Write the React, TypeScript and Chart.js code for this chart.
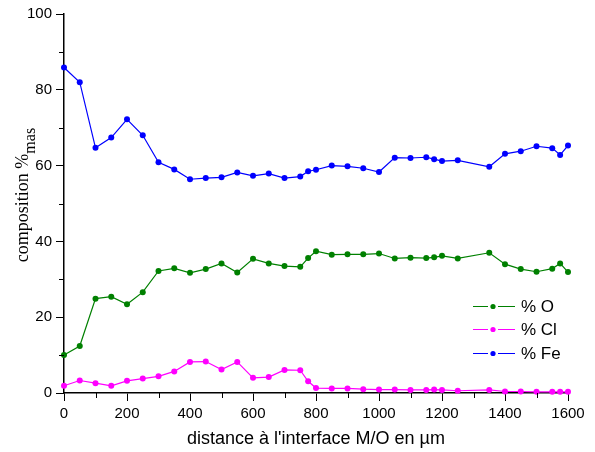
import React, { useEffect, useRef } from "react";
import { Chart, registerables } from "chart.js";

Chart.register(...registerables);

const distances = [0, 50, 100, 150, 200, 250, 300, 350, 400, 450, 500, 550, 600, 650, 700, 750, 775, 800, 850, 900, 950, 1000, 1050, 1100, 1150, 1175, 1200, 1250, 1350, 1400, 1450, 1500, 1550, 1575, 1600];
const oxygen = [10.0, 12.4, 24.9, 25.4, 23.4, 26.6, 32.2, 32.9, 31.7, 32.7, 34.2, 31.8, 35.4, 34.2, 33.5, 33.3, 35.6, 37.4, 36.5, 36.6, 36.6, 36.8, 35.5, 35.7, 35.6, 35.8, 36.2, 35.5, 37.0, 34.0, 32.7, 32.0, 32.8, 34.2, 31.9];
const chlorine = [1.9, 3.3, 2.6, 1.9, 3.2, 3.8, 4.4, 5.7, 8.2, 8.3, 6.2, 8.2, 4.0, 4.2, 6.1, 6.0, 3.1, 1.3, 1.2, 1.2, 1.0, 0.9, 0.9, 0.8, 0.8, 0.9, 0.8, 0.6, 0.8, 0.4, 0.4, 0.3, 0.3, 0.3, 0.3];
const iron = [85.9, 82.0, 64.7, 67.4, 72.2, 68.0, 60.9, 59.0, 56.4, 56.7, 56.9, 58.2, 57.3, 57.9, 56.7, 57.1, 58.5, 58.9, 60.0, 59.8, 59.3, 58.3, 62.1, 62.0, 62.2, 61.7, 61.2, 61.4, 59.7, 63.1, 63.8, 65.1, 64.6, 62.8, 65.3];

const seriesLabels = ["% O", "% Cl", "% Fe"];
const seriesColors = ["#008000", "#ff00ff", "#0000ff"];
const xTitle = "distance à l'interface M/O en µm";
const yTitleMain = "composition %";
const yTitleSub = "mas";

const SANS = "Arial, 'Liberation Sans', sans-serif";
const SERIF = "'Times New Roman', 'Liberation Serif', serif";

const decorPlugin = {
  id: "decor",
  afterDraw(chart: any) {
    const ctx = chart.ctx;
    const xs = chart.scales.x;
    const ys = chart.scales.y;
    const area = chart.chartArea;
    ctx.save();
    // minor ticks
    ctx.strokeStyle = "#000";
    ctx.lineWidth = 1;
    ctx.beginPath();
    for (let v = 100; v <= 1600; v += 200) {
      const px = Math.round(xs.getPixelForValue(v)) + 0.5;
      ctx.moveTo(px, area.bottom);
      ctx.lineTo(px, area.bottom + 5);
    }
    for (let v = 10; v <= 100; v += 20) {
      const py = Math.round(ys.getPixelForValue(v)) + 0.5;
      ctx.moveTo(area.left, py);
      ctx.lineTo(area.left - 5, py);
    }
    ctx.stroke();

    // x title
    ctx.fillStyle = "#000";
    ctx.font = `18px ${SANS}`;
    ctx.textAlign = "center";
    ctx.textBaseline = "alphabetic";
    ctx.fillText(xTitle, (area.left + area.right) / 2, 444);

    // y title (rotated with subscript)
    ctx.save();
    ctx.translate(28, 195);
    ctx.rotate(-Math.PI / 2);
    ctx.font = `18px ${SERIF}`;
    const wMain = ctx.measureText(yTitleMain).width;
    ctx.font = `16px ${SERIF}`;
    const wSub = ctx.measureText(yTitleSub).width;
    const total = wMain + wSub;
    ctx.textAlign = "left";
    ctx.font = `18px ${SERIF}`;
    ctx.fillText(yTitleMain, -total / 2, 0);
    ctx.font = `16px ${SERIF}`;
    ctx.fillText(yTitleSub, -total / 2 + wMain, 7);
    ctx.restore();

    // legend
    const rows = [306, 329, 353];
    ctx.font = `17px ${SANS}`;
    ctx.textAlign = "left";
    ctx.textBaseline = "middle";
    for (let i = 0; i < 3; i++) {
      const y = rows[i] + 0.5;
      ctx.strokeStyle = seriesColors[i];
      ctx.lineWidth = 1;
      ctx.beginPath();
      ctx.moveTo(473, y);
      ctx.lineTo(488, y);
      ctx.moveTo(498, y);
      ctx.lineTo(515, y);
      ctx.stroke();
      ctx.fillStyle = seriesColors[i];
      ctx.beginPath();
      ctx.arc(493, y, 2.6, 0, Math.PI * 2);
      ctx.fill();
      ctx.fillStyle = "#000";
      ctx.fillText(seriesLabels[i], 521, rows[i] + 1);
    }
    ctx.restore();
  },
};

export default function App() {
  const canvasRef = useRef<HTMLCanvasElement | null>(null);

  useEffect(() => {
    const canvas = canvasRef.current;
    if (!canvas) return;
    const series = [oxygen, chlorine, iron];
    const chart = new Chart(canvas, {
      type: "line",
      data: {
        datasets: series.map((vals, i) => ({
          label: seriesLabels[i],
          data: distances.map((d, j) => ({ x: d, y: vals[j] })),
          borderColor: seriesColors[i],
          backgroundColor: seriesColors[i],
          borderWidth: 1.2,
          pointRadius: 3,
          pointBorderWidth: 0,
          pointBackgroundColor: seriesColors[i],
          tension: 0,
          clip: false as any,
        })),
      },
      options: {
        animation: false,
        responsive: false,
        devicePixelRatio: 1,
        layout: { padding: { left: 0, right: 27, top: 14, bottom: 0 } },
        plugins: {
          legend: { display: false },
          tooltip: { enabled: false },
          title: { display: false },
        },
        scales: {
          x: {
            type: "linear",
            min: 0,
            max: 1600,
            afterFit: (s: any) => {
              s.height = 59;
            },
            ticks: {
              stepSize: 200,
              color: "#000",
              font: { family: SANS, size: 15 },
              padding: 4,
              maxRotation: 0,
              autoSkip: false,
              callback: (v: any) => String(v),
            },
            grid: {
              display: true,
              drawOnChartArea: false,
              drawTicks: true,
              tickLength: 8,
              tickColor: "#000",
              tickWidth: 1,
            },
            border: { display: true, color: "#000", width: 1.5 },
          },
          y: {
            type: "linear",
            min: 0,
            max: 100,
            afterFit: (s: any) => {
              s.width = 64;
            },
            ticks: {
              stepSize: 20,
              color: "#000",
              font: { family: SANS, size: 15 },
              padding: 4,
              autoSkip: false,
              callback: (v: any) => String(v),
            },
            grid: {
              display: true,
              drawOnChartArea: false,
              drawTicks: true,
              tickLength: 8,
              tickColor: "#000",
              tickWidth: 1,
            },
            border: { display: true, color: "#000", width: 1.5 },
          },
        },
      },
      plugins: [decorPlugin],
    });
    return () => chart.destroy();
  }, []);

  return (
    <div style={{ position: "fixed", left: 0, top: 0, width: 595, height: 452, background: "#fff" }}>
      <canvas ref={canvasRef} width={595} height={452} style={{ width: 595, height: 452, display: "block" }} />
    </div>
  );
}
